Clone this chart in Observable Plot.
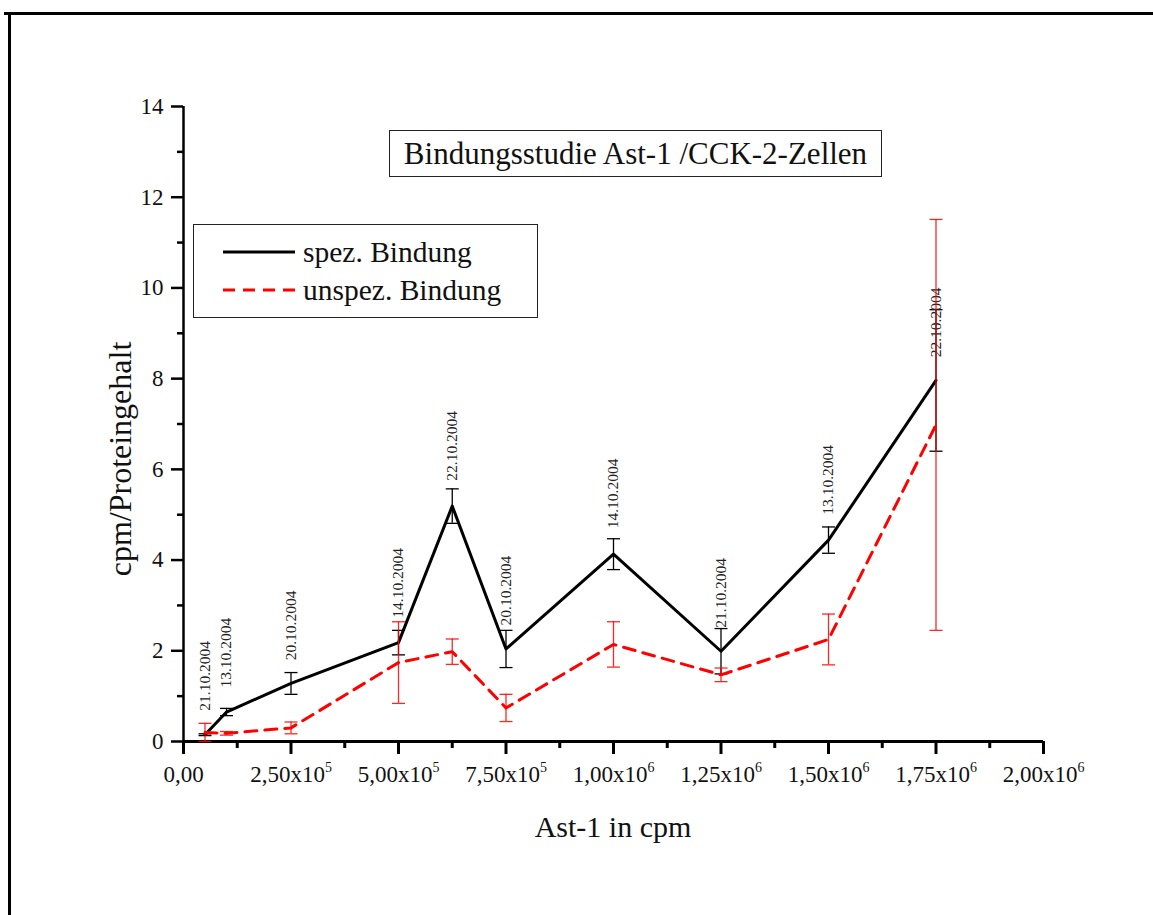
<!DOCTYPE html>
<html>
<head>
<meta charset="utf-8">
<script src="https://cdn.jsdelivr.net/npm/d3@7"></script>
<script src="https://cdn.jsdelivr.net/npm/@observablehq/plot@0.6"></script>
<style>
  html, body { margin: 0; padding: 0; background: #fff; }
  #wrap { position: relative; width: 1153px; height: 915px; overflow: hidden; }
  #overlay { position: absolute; left: 0; top: 0; pointer-events: none; }
  #overlay text { font-family: "Liberation Serif", serif; }
</style>
</head>
<body>
<div id="wrap"></div>
<script>
// ---- data ----
const xValues   = [5e4, 1e5, 2.5e5, 5e5, 6.25e5, 7.5e5, 1e6, 1.25e6, 1.5e6, 1.75e6];
const spez      = [0.15, 0.65, 1.28, 2.18, 5.19, 2.04, 4.13, 1.99, 4.44, 7.96];
const spezErr   = [0.02, 0.08, 0.24, 0.27, 0.38, 0.41, 0.34, 0.50, 0.29, 1.56];
const unspez    = [0.20, 0.18, 0.30, 1.74, 1.98, 0.74, 2.14, 1.47, 2.25, 6.98];
const unspezErr = [0.20, 0.04, 0.13, 0.90, 0.28, 0.30, 0.50, 0.15, 0.56, 4.53];
const dates     = ["21.10.2004","13.10.2004","20.10.2004","14.10.2004","22.10.2004",
                   "20.10.2004","14.10.2004","21.10.2004","13.10.2004","22.10.2004"];
const dateLabelAt = [0.68, 1.19, 1.79, 2.73, 5.75, 2.56, 4.70, 2.51, 5.00, 8.47];

const xTicks      = [0, 2.5e5, 5e5, 7.5e5, 1e6, 1.25e6, 1.5e6, 1.75e6, 2e6];
const xTickMantissa = ["0,00","2,50","5,00","7,50","1,00","1,25","1,50","1,75","2,00"];
const xTickExponent = [null, "5", "5", "5", "6", "6", "6", "6", "6"];
const xMinorTicks = [1.25e5, 3.75e5, 6.25e5, 8.75e5, 1.125e6, 1.375e6, 1.625e6, 1.875e6];
const yTicks      = [0, 2, 4, 6, 8, 10, 12, 14];
const yMinorTicks = [1, 3, 5, 7, 9, 11, 13];

const chartTitle = "Bindungsstudie Ast-1 /CCK-2-Zellen";
const xTitle = "Ast-1 in cpm";
const yTitle = "cpm/Proteingehalt";
const seriesNames = ["spez. Bindung", "unspez. Bindung"];

// ---- build table ----
const spezData = xValues.map((x, i) => ({x, v: spez[i], e: spezErr[i], date: dates[i], lab: dateLabelAt[i]}));
const unspezData = xValues.map((x, i) => ({x, v: unspez[i], e: unspezErr[i]}));

const capSymbol = {
  draw(ctx, size) { const w = 6.5; ctx.moveTo(-w, 0); ctx.lineTo(w, 0); }
};

const FONT = "Liberation Serif";
const RED = "#ff0000";

const chart = Plot.plot({
  width: 1153,
  height: 915,
  marginLeft: 183,
  marginRight: 110,
  marginTop: 106,
  marginBottom: 174,
  style: {fontFamily: FONT, background: "white", overflow: "visible"},
  x: {domain: [0, 2e6]},
  y: {domain: [0, 14]},
  marks: [
    // axes
    Plot.axisY({ticks: yTicks, tickSize: 12, tickPadding: 8, tickFormat: d => String(d),
                fontSize: 23, strokeWidth: 2.5, label: null, fill: "#111"}),
    Plot.axisY({ticks: yMinorTicks, tickSize: 6, tickFormat: () => "", strokeWidth: 2.5, label: null}),
    Plot.axisX({ticks: xTicks, tickSize: 13, tickPadding: 11,
                tickFormat: (d, i) => xTickMantissa[i] + (xTickExponent[i] ? "x10^" + xTickExponent[i] : ""),
                fontSize: 23, strokeWidth: 3, label: null, fill: "#111"}),
    Plot.axisX({ticks: xMinorTicks, tickSize: 7, tickFormat: () => "", strokeWidth: 3, label: null}),
    Plot.ruleY([0], {stroke: "black", strokeWidth: 3}),
    Plot.ruleX([0], {stroke: "black", strokeWidth: 2.5}),
    // spez. Bindung
    Plot.line(spezData, {x: "x", y: "v", stroke: "black", strokeWidth: 3}),
    Plot.ruleX(spezData, {x: "x", y1: d => d.v - d.e, y2: d => d.v + d.e, stroke: "black", strokeWidth: 1.3}),
    Plot.dot(spezData, {x: "x", y: d => d.v + d.e, symbol: capSymbol, fill: "none", stroke: "black", strokeWidth: 1.3, r: 3}),
    Plot.dot(spezData, {x: "x", y: d => d.v - d.e, symbol: capSymbol, fill: "none", stroke: "black", strokeWidth: 1.3, r: 3}),
    Plot.text(spezData, {x: "x", y: "lab", text: "date", rotate: -90, textAnchor: "start",
                         fontSize: 15.5, fill: "#222"}),
    // unspez. Bindung
    Plot.line(unspezData, {x: "x", y: "v", stroke: RED, strokeWidth: 3, strokeDasharray: "12,8"}),
    Plot.ruleX(unspezData, {x: "x", y1: d => d.v - d.e, y2: d => d.v + d.e, stroke: RED, strokeWidth: 1.3, strokeOpacity: 0.85}),
    Plot.dot(unspezData, {x: "x", y: d => d.v + d.e, symbol: capSymbol, fill: "none", stroke: RED, strokeWidth: 1.3, strokeOpacity: 0.85, r: 3}),
    Plot.dot(unspezData, {x: "x", y: d => d.v - d.e, symbol: capSymbol, fill: "none", stroke: RED, strokeWidth: 1.3, strokeOpacity: 0.85, r: 3})
  ]
});

// turn "x10^n" tick labels into real superscripts
chart.querySelectorAll("text").forEach(t => {
  const s = t.textContent;
  const m = s.match(/^(.*x10)\^(\d)$/);
  if (!m) return;
  t.textContent = "";
  const ns0 = "http://www.w3.org/2000/svg";
  const a = document.createElementNS(ns0, "tspan");
  a.textContent = m[1];
  const b = document.createElementNS(ns0, "tspan");
  b.textContent = m[2];
  b.setAttribute("font-size", 14);
  b.setAttribute("dy", "-10");
  t.appendChild(a);
  t.appendChild(b);
});

const wrap = document.getElementById("wrap");
wrap.appendChild(chart);

// ---- overlay: page frame, title box, legend, axis titles ----
const ns = "http://www.w3.org/2000/svg";
const ov = document.createElementNS(ns, "svg");
ov.setAttribute("id", "overlay");
ov.setAttribute("width", 1153);
ov.setAttribute("height", 915);
ov.setAttribute("font-family", FONT);
wrap.appendChild(ov);
function el(tag, attrs, text) {
  const e = document.createElementNS(ns, tag);
  for (const k in attrs) e.setAttribute(k, attrs[k]);
  if (text != null) e.textContent = text;
  ov.appendChild(e);
  return e;
}
// page frame (top and left edges)
el("line", {x1: 4, y1: 13.5, x2: 1153, y2: 13.5, stroke: "black", "stroke-width": 3});
el("line", {x1: 9.5, y1: 12, x2: 9.5, y2: 915, stroke: "black", "stroke-width": 3});
// title box
el("rect", {x: 389.5, y: 130.5, width: 492, height: 46, fill: "white", stroke: "#222", "stroke-width": 1});
el("text", {x: 635.5, y: 164, "text-anchor": "middle", "font-size": 31, fill: "#111"}, chartTitle);
// legend
el("rect", {x: 193.5, y: 224.5, width: 344, height: 93, fill: "white", stroke: "#222", "stroke-width": 1});
el("line", {x1: 223, y1: 252, x2: 295, y2: 252, stroke: "black", "stroke-width": 3});
el("line", {x1: 223, y1: 290, x2: 295, y2: 290, stroke: RED, "stroke-width": 3, "stroke-dasharray": "12,8"});
el("text", {x: 303, y: 262, "font-size": 29.5, fill: "#111"}, seriesNames[0]);
el("text", {x: 303, y: 300, "font-size": 29.5, fill: "#111"}, seriesNames[1]);
// axis titles
el("text", {x: 613, y: 837, "text-anchor": "middle", "font-size": 30, fill: "#111"}, xTitle);
el("text", {transform: "translate(131,459) rotate(-90)", "text-anchor": "middle", "font-size": 32, fill: "#111"}, yTitle);
</script>
</body>
</html>
